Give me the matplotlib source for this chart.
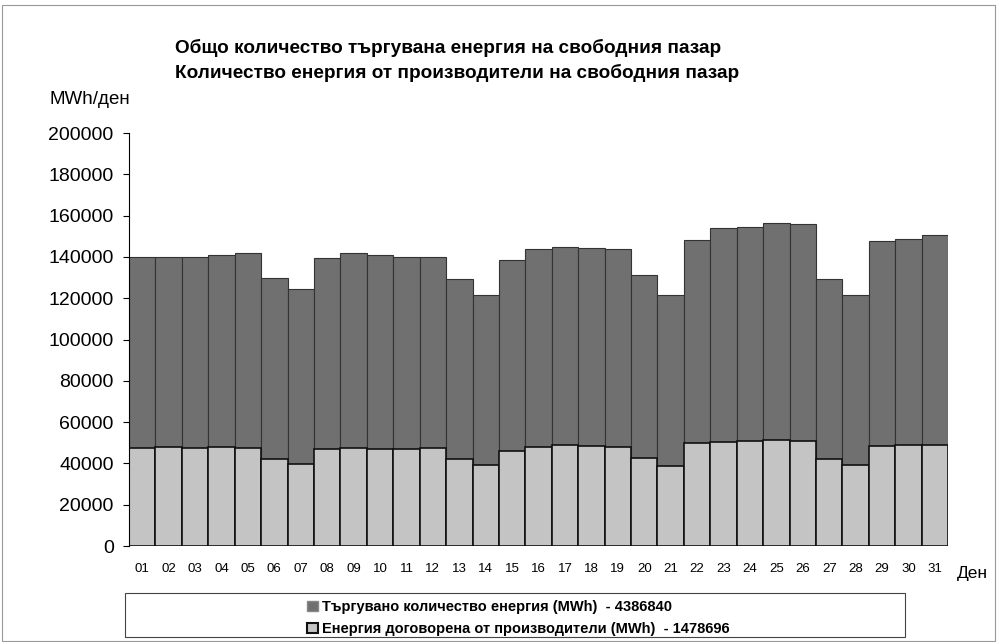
import matplotlib.pyplot as plt
from matplotlib.patches import Rectangle, Patch
import numpy as np

plt.rcParams['font.family'] = ['Liberation Sans', 'DejaVu Sans']

days = ['%02d' % d for d in range(1, 32)]

# търгувано количество енергия (MWh)
traded = [139800, 140100, 139800, 141100, 141700, 129800, 124300, 139500,
          141900, 140800, 140000, 140000, 129400, 121700, 138500, 143800,
          144700, 144200, 143700, 131400, 121400, 148300, 154100, 154500,
          156400, 155800, 129100, 121400, 147800, 148700, 150600]

# енергия договорена от производители (MWh)
producers = [47500, 47800, 47300, 47800, 47500, 42300, 39900, 46800,
             47500, 47100, 47100, 47500, 42300, 39200, 46200, 48100,
             48800, 48400, 48100, 42500, 38600, 49700, 50400, 51000,
             51300, 50800, 42100, 39400, 48400, 48800, 49100]

traded_total = 4386840
producers_total = 1478696

dark = '#707070'
light = '#c4c4c4'

fig = plt.figure(figsize=(9.97, 6.42), dpi=100)
ax = fig.add_axes([0.1294, 0.1495, 0.8216, 0.6433])

x = np.arange(len(days))
ax.bar(x, traded, width=1.0, color=dark, edgecolor='#333333', linewidth=0.8)
ax.bar(x, producers, width=1.0, color=light, edgecolor='#111111', linewidth=1.2)

ax.set_xlim(-0.5, len(days) - 0.5)
ax.set_ylim(0, 200000)
ax.set_yticks(np.arange(0, 200001, 20000))
ax.set_yticklabels([str(v) for v in range(0, 200001, 20000)], fontsize=14)
ax.set_xticks(x)
ax.set_xticklabels(days, fontsize=9.5)
ax.tick_params(axis='x', length=0, pad=12)
ax.tick_params(axis='y', length=4, width=0.8, pad=7)

for s in ['top', 'right', 'bottom']:
    ax.spines[s].set_visible(False)
ax.spines['left'].set_linestyle((0, (4, 1)))
ax.spines['left'].set_linewidth(0.8)

# заглавие и надписи по осите
fig.text(0.176, 0.925, 'Общо количество търгувана енергия на свободния пазар',
         fontsize=13.7, fontweight='bold', va='center')
fig.text(0.176, 0.886, 'Количество енергия от производители на свободния пазар',
         fontsize=13.7, fontweight='bold', va='center')
fig.text(0.05, 0.845, 'MWh/ден', fontsize=13.5, va='center')
fig.text(0.96, 0.107, 'Ден', fontsize=12.5, va='center')

# легенда
fig.patches.append(Rectangle((0.125, 0.008), 0.783, 0.068, transform=fig.transFigure,
                             fill=False, edgecolor='#444444', linewidth=0.8))
handles = [Patch(facecolor=dark, edgecolor='#888888'),
           Patch(facecolor=light, edgecolor='#111111', linewidth=1.5)]
labels = ['Търгувано количество енергия (MWh)  - %d' % traded_total,
          'Енергия договорена от производители (MWh)  - %d' % producers_total]
fig.legend(handles, labels, loc='center', bbox_to_anchor=(0.52, 0.037),
           frameon=False, handlelength=0.7, handleheight=0.7,
           handletextpad=0.3, labelspacing=0.55,
           prop={'family': ['Liberation Sans', 'DejaVu Sans'], 'size': 10.5, 'weight': 'bold'})

# рамка на диаграмата
fig.patches.append(Rectangle((0.002, 0.002), 0.996, 0.99, transform=fig.transFigure,
                             fill=False, edgecolor='#999999', linewidth=0.8))

plt.savefig('out.png', dpi=100)
